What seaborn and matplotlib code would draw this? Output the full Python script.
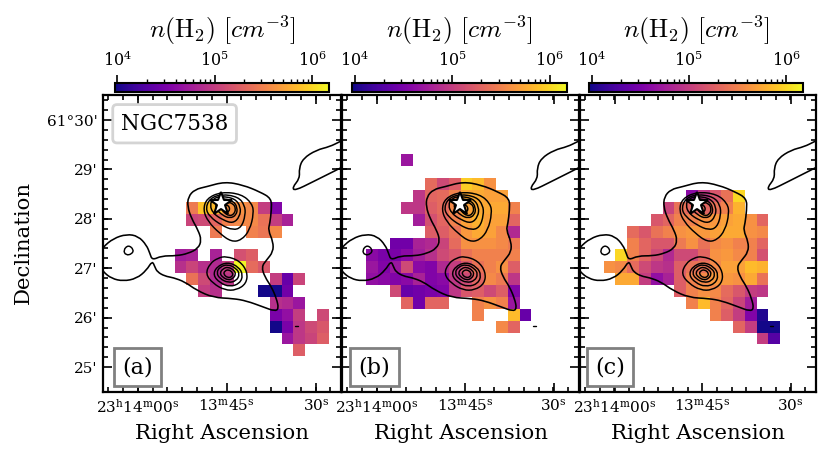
import numpy as np
import matplotlib
matplotlib.use('Agg')
import matplotlib.pyplot as plt
import seaborn as sns
from matplotlib.colors import LogNorm
from matplotlib.path import Path
from matplotlib.patches import PathPatch

_ = np.nan

# log10 n(H2) per map cell: (row, first column, values)
cells_a = [
    (9, 7, [5.45, 5.9, 5.85, 5.6, 5.6, 5.55, 5.0, 4.55]),
    (10, 7, [5.05, 5.1, 5.3, 5.5, 5.55, 5.55, 5.4, 5.0, 4.8]),
    (11, 9, [5.45, _, _, 5.5, 5.42, 5.55]),
    (13, 6, [4.75, 4.8, _, 4.8, _, 5.15, 5.25]),
    (14, 6, [4.9, 5.05, 4.9, 4.85, 5.0, 6.15, 5.35, 5.2]),
    (15, 7, [5.4, 5.1, 4.85, 4.95, _, _, _, 5.0, 4.4, 5.05]),
    (16, 8, [5.0, 4.9, _, _, _, 4.0, 4.0, 4.45]),
    (17, 14, [4.9, 4.85, 4.7]),
    (18, 14, [4.5, 4.65, 5.0, _, 5.1]),
    (19, 14, [4.0, 4.5, 4.95, 5.1, 5.2]),
    (20, 15, [4.7, 4.95, 5.05, 5.25]),
    (21, 16, [5.25]),
]
cells_b = [
    (5, 5, [4.7]),
    (7, 7, [5.35, 5.1, 5.25, 5.95, 5.85, 5.6]),
    (8, 6, [4.95, 5.3, 5.35, 5.5, 5.75, 5.75, 5.7, 5.7]),
    (9, 5, [4.95, 4.95, 5.25, 5.35, 5.55, 5.7, 5.75, 5.75, 5.75, 5.5]),
    (10, 6, [4.75, 5.15, 5.3, 5.5, 5.7, 5.8, 5.7, 5.7, 5.3]),
    (11, 7, [5.25, 5.25, 5.4, 5.65, 5.75, 5.7, 5.55, 4.85]),
    (12, 4, [4.45, 4.45, 4.8, 4.85, 5.05, 5.35, 5.6, 5.6, 5.6, 5.55, 5.45]),
    (13, 2, [4.6, 4.5, 4.5, 4.6, 4.75, 4.9, 5.1, 5.2, 5.4, 5.5, 5.5, 5.5, 5.5]),
    (14, 2, [4.7, 4.55, 4.7, 5.1, 4.6, 4.55, 4.85, 5.0, 5.2, 5.4, 5.5, 5.6, 5.25]),
    (15, 2, [4.65, 4.6, 4.55, 4.6, 4.8, 4.55, 4.6, 4.95, 5.1, 5.3, 5.55, 5.45, 4.95]),
    (16, 4, [5.1, 4.4, 4.45, 4.5, 4.55, 4.95, 5.2, 5.25, 5.1, 5.25, 4.55]),
    (17, 5, [5.3, 4.45, 5.3, 5.3, _, _, 5.5, 5.6, 5.5, 4.7]),
    (18, 11, [5.5, _, _, 5.85, 4.4]),
    (19, 13, [5.55, 5.3]),
]
cells_c = [
    (8, 9, [4.6, 4.95, 5.2, 5.4, 6.0]),
    (9, 7, [5.05, 5.4, 5.3, 5.3, 5.4, 5.5, 5.8]),
    (10, 6, [5.2, 5.3, 5.5, 5.5, 5.6, 5.65, 5.7, 5.75, 5.6, 5.3]),
    (11, 4, [5.35, 5.2, 5.4, 5.5, 5.6, 5.65, 5.65, 5.7, 5.75, 5.75, 5.6, 5.55]),
    (12, 4, [5.5, 5.3, 5.2, 5.2, 5.45, 5.6, 5.4, 5.55, 5.6, 5.5, 5.5, 5.3]),
    (13, 3, [6.0, 5.5, 5.3, 5.1, 4.85, 5.1, 5.1, 5.3, 5.6, 5.65, 5.55, 5.5, 5.15]),
    (14, 2, [5.6, 5.55, 5.35, 5.1, 4.95, 4.9, 5.25, 5.4, 5.4, 5.55, 5.7, 5.7, 5.85, 5.8]),
    (15, 3, [5.75, 5.75, 5.0, 4.65, 4.8, 5.25, 5.5, 5.55, 5.65, 5.65, 5.6, 5.75, 5.4]),
    (16, 8, [5.25, 5.5, 5.6, 5.55, 5.35, 5.2, 5.0, 4.95]),
    (17, 9, [5.5, 5.85, 5.5, 5.3, 5.05, 4.75]),
    (18, 11, [5.5, 5.25, 5.0, 4.55, 4.05]),
    (19, 13, [5.3, 5.0, 4.0, 4.0]),
    (20, 15, [5.0, 4.3]),
]

# contour outlines, in cell units
outer_open = [(-0.5, 13.4), (0, 12.78), (.84, 12.08), (1.96, 11.71), (2.94, 11.88), (3.64, 12.64), (3.92, 13.34),
              (4.12, 13.90), (4.90, 13.54), (6.16, 13.54), (7.14, 13.34), (7.98, 12.92), (8.26, 12.22), (7.98, 11.38),
              (7.42, 10.39), (7.09, 9.41), (7.14, 8.57), (7.70, 7.95), (8.68, 7.72), (10.22, 7.30), (11.76, 7.58),
              (13.17, 8.15), (14.15, 8.71), (14.15, 9.69), (14.01, 10.81), (13.87, 11.38), (14.29, 12.36),
              (14.29, 13.20), (13.73, 13.90), (13.31, 14.47), (13.59, 15.31), (14.15, 16.15), (14.57, 17.13),
              (14.76, 17.98), (14.43, 18.20), (13.45, 17.84), (12.05, 17.33), (10.92, 17.13), (9.24, 17.05),
              (7.84, 16.43), (6.86, 15.73), (5.88, 15.37), (5.18, 15.25), (4.54, 14.89), (4.34, 14.47), (4.12, 13.96),
              (3.64, 14.75), (2.80, 15.45), (1.68, 15.67), (.70, 15.45), (0, 14.89), (-0.5, 14.2)]
filament = [(20.6, 3.6), (19.89, 3.93), (19.05, 4.35), (17.93, 4.63), (16.81, 5.34), (16.47, 6.18), (16.53, 7.02),
            (15.91, 7.78), (16.11, 8.06), (17.65, 7.30), (19.05, 6.60), (19.89, 6.18), (20.6, 5.8)]
speck = [(16.1, 19.41), (16.4, 19.41)]
rings = [
    [(1.68, 13.06), (2.10, 12.62), (2.56, 13.0), (2.42, 13.38), (1.9, 13.5)],
    # north core
    [(9.94, 8.15), (11.62, 8.34), (12.52, 9.13), (12.66, 9.97), (12.32, 11.38), (11.62, 12.22), (10.78, 12.36),
     (9.80, 11.66), (8.82, 10.67), (8.40, 9.69), (8.68, 8.71)],
    [(9.94, 8.34), (11.34, 8.57), (11.90, 9.27), (11.96, 10.11), (11.62, 11.15), (10.92, 11.38), (9.94, 10.96),
     (8.96, 10.25), (8.60, 9.55), (8.96, 8.71)],
    [(9.94, 8.52), (11.06, 8.71), (11.57, 9.41), (11.48, 10.25), (10.92, 10.81), (10.08, 10.53), (9.24, 9.97),
     (8.96, 9.27), (9.24, 8.71)],
    [(10.08, 8.71), (10.92, 8.90), (11.29, 9.47), (11.20, 10.11), (10.64, 10.39), (10.0, 10.11), (9.44, 9.55),
     (9.52, 8.99)],
    [(10.36, 8.99), (10.92, 9.13), (11.15, 9.55), (11.01, 10.03), (10.59, 10.2), (10.08, 9.83), (9.89, 9.41)],
    [(10.31, 9.21), (10.64, 9.41), (10.59, 9.83), (10.22, 9.92), (9.94, 9.55)],
    # south core
    [(10.36, 13.57), (11.48, 13.96), (12.13, 14.89), (12.04, 15.87), (11.20, 16.43), (10.22, 16.43), (9.24, 15.87),
     (8.60, 15.08), (8.96, 14.19), (9.66, 13.71)],
    [(10.45, 14.05), (11.40, 14.47), (11.76, 15.17), (11.48, 15.87), (10.64, 16.15), (9.80, 15.81), (9.24, 15.17),
     (9.52, 14.47)],
    [(10.5, 14.24), (11.2, 14.61), (11.48, 15.08), (11.2, 15.65), (10.5, 15.81), (9.8, 15.45), (9.52, 14.97),
     (9.8, 14.47)],
    [(10.5, 14.47), (11.01, 14.75), (11.15, 15.08), (10.92, 15.45), (10.5, 15.59), (10.0, 15.31), (9.8, 14.97),
     (10.08, 14.61)],
    [(10.56, 14.69), (10.92, 14.97), (10.84, 15.31), (10.45, 15.39), (10.11, 15.08), (10.22, 14.8)],
]
star_pos = (9.94, 9.19)

ra_ticks = [2.92, 10.38, 17.88]
ra_labels = [r'$23^{\mathrm{h}}14^{\mathrm{m}}00^{\mathrm{s}}$', r'$13^{\mathrm{m}}45^{\mathrm{s}}$', r'$30^{\mathrm{s}}$']
dec_ticks = [2.11, 6.27, 10.42, 14.58, 18.74, 22.9]
dec_labels = ["61°30'", "29'", "28'", "27'", "26'", "25'"]
panel_names = ['(a)', '(b)', '(c)']

sns.set_theme(style='ticks')
plt.rcParams['font.family'] = ['DejaVu Serif']
plt.rcParams['mathtext.fontset'] = 'dejavuserif'
plt.rcParams['text.color'] = 'black'
plt.rcParams['axes.labelcolor'] = 'black'
plt.rcParams['xtick.labelcolor'] = 'black'
plt.rcParams['ytick.labelcolor'] = 'black'


def to_grid(cells):
    grid = np.full((25, 20), np.nan)
    for row, first, vals in cells:
        grid[row, first:first + len(vals)] = vals
    return grid


def smooth_path(points, closed):
    # quadratic curves through the midpoints, so the traced outline isn't jagged
    p = np.array(points)
    if closed:
        p = np.vstack([p, p[:2]])
        mid = (p[:-1] + p[1:]) / 2
        verts, codes = [mid[0]], [Path.MOVETO]
        for k in range(1, len(mid)):
            verts += [p[k], mid[k]]
            codes += [Path.CURVE3, Path.CURVE3]
    else:
        mid = (p[:-1] + p[1:]) / 2
        verts, codes = [p[0]], [Path.MOVETO]
        for k in range(1, len(p) - 1):
            verts += [p[k], mid[k]]
            codes += [Path.CURVE3, Path.CURVE3]
        verts.append(p[-1])
        codes.append(Path.LINETO)
    return Path(verts, codes)


W, H = 830, 461
fig = plt.figure(figsize=(W / 100, H / 100), dpi=100)
norm_args = dict(vmin=10 ** 3.976, vmax=10 ** 6.175)

ax_x = [(103.3, 341), (342.3, 578.7), (580.2, 815.5)]
cb_x = [(115, 329.3), (352.3, 566.7), (589.3, 803.2)]
box_x = [0.0, -2.0, -4.0]
all_cells = [cells_a, cells_b, cells_c]

for i in range(3):
    ax = fig.add_axes([ax_x[i][0] / W, 1 - 392 / H, (ax_x[i][1] - ax_x[i][0]) / W, 297 / H])
    cax = fig.add_axes([cb_x[i][0] / W, 1 - 92.3 / H, (cb_x[i][1] - cb_x[i][0]) / W, 9.6 / H])
    sns.heatmap(10 ** to_grid(all_cells[i]), ax=ax, cmap='plasma', norm=LogNorm(**norm_args), cbar_ax=cax,
                cbar_kws={'orientation': 'horizontal'}, xticklabels=False, yticklabels=False)

    # colorbar on top
    cb = ax.collections[0].colorbar
    cb.outline.set_linewidth(1.5)
    cb.outline.set_edgecolor('black')
    cax.xaxis.set_ticks_position('top')
    cax.tick_params(axis='x', which='major', length=6, width=1.2, labelsize=11.5, pad=3, color='black')
    cax.tick_params(axis='x', which='minor', length=3, width=1.0, color='black')
    cax.set_xlabel(r'$n(\mathrm{H_2})\ [cm^{-3}]$', fontsize=18.5, labelpad=9, math_fontfamily='cm')
    cax.xaxis.set_label_position('top')

    # contours
    ax.add_patch(PathPatch(smooth_path(outer_open, False), fc='none', ec='black', lw=1.15))
    ax.add_patch(PathPatch(smooth_path(filament, False), fc='none', ec='black', lw=1.15))
    ax.plot(*zip(*speck), color='black', lw=1.0)
    for ring in rings:
        ax.add_patch(PathPatch(smooth_path(ring, True), fc='none', ec='black', lw=1.05))
    ax.plot(*star_pos, marker='*', ms=17, mfc='white', mec='black', mew=1.5)

    ax.set_xticks(ra_ticks)
    ax.set_xticklabels(ra_labels)
    ax.set_xticks(np.arange(-10, 10) * 1.2467 + ra_ticks[1], minor=True)
    ax.set_xlim(0, 20)
    ax.set_yticks(dec_ticks)
    ax.set_yticklabels(dec_labels if i == 0 else [''] * 6, rotation=0)
    ax.set_yticks(np.arange(-2, 26) * 0.8316 + dec_ticks[0], minor=True)
    ax.set_ylim(25, 0)
    ax.tick_params(which='major', direction='in', top=True, right=True, bottom=True, left=True, length=6.5, width=1.2,
                   labelsize=11, color='black', pad=4)
    ax.tick_params(which='minor', direction='in', top=True, right=True, bottom=True, left=True, length=3.5, width=1.2,
                   color='black')
    for s in ax.spines.values():
        s.set_visible(True)
        s.set_linewidth(1.6)
        s.set_color('black')

    ax.set_xlabel('Right Ascension', fontsize=15.3, labelpad=6)
    if i == 0:
        ax.set_ylabel('Declination', fontsize=15.3, labelpad=6)
        ax.yaxis.set_label_coords(-0.295, 0.505)

    ax.text(2.88 + box_x[i] * 0.085, 22.9, panel_names[i], fontsize=16, ha='center', va='center',
            bbox=dict(boxstyle='square,pad=0.38', fc='white', ec='#808080', lw=2))
    if i == 0:
        ax.text(6.0, 2.42, 'NGC7538', fontsize=15.5, ha='center', va='center',
                bbox=dict(boxstyle='round,pad=0.38,rounding_size=0.2', fc='white', ec='#d4d4d4', lw=2))

fig.savefig('out.png', dpi=100)
